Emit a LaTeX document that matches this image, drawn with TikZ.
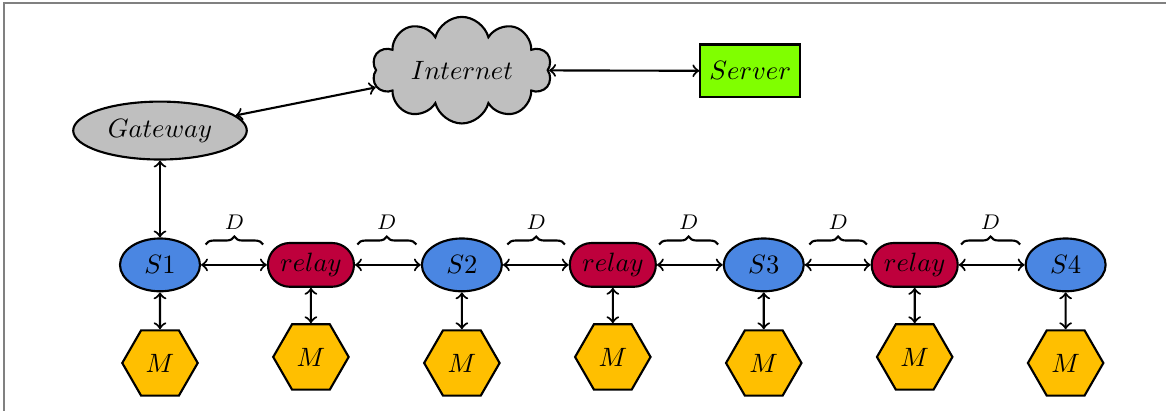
\documentclass[tikz,border=0pt]{standalone}
\usepackage{tikz}
\usetikzlibrary{shapes.geometric,shapes.symbols,decorations.pathreplacing}
\definecolor{sblue}{RGB}{74,134,226}
\definecolor{rcrim}{RGB}{190,0,60}
\definecolor{mgold}{RGB}{255,191,0}
\definecolor{sgreen}{RGB}{128,255,0}

\tikzset{
    sensor/.style={ellipse, draw, thick, fill=sblue, minimum width=1.06cm, minimum height=0.70cm, inner sep=1pt},
    relaybox/.style={rectangle, rounded corners=0.29cm, draw, thick, fill=rcrim, minimum width=1.14cm, minimum height=0.58cm, inner sep=1pt},
    meter/.style={regular polygon, regular polygon sides=6, draw, thick, fill=mgold, minimum size=1.0cm, inner sep=0pt},
    link/.style={<->, thick},
    gap/.style={decorate, decoration={brace, amplitude=3pt}, thick}
}

\begin{document}
\begin{tikzpicture}[>=to]
    \useasboundingbox (-2.12, -1.93) rectangle (13.33, 3.51);
    % frame lines along top and left
    \draw[gray, line width=0.6pt] (-2.07, -1.93) -- (-2.07, 3.47) -- (13.33, 3.47);

    % upper part
    \node[ellipse, draw, thick, fill=lightgray, minimum width=2.30cm, minimum height=0.75cm] (gw) at (0, 1.78) {$Gateway$};
    \node[cloud, cloud puffs=10, aspect=1.9, draw, thick, fill=lightgray, inner sep=0pt, minimum width=2.38cm, minimum height=1.22cm] (net) at (4.0, 2.58) {$Internet$};
    \node[rectangle, draw, thick, fill=sgreen, minimum width=1.32cm, minimum height=0.70cm] (srv) at (7.82, 2.57) {$Server$};

    % chain of sensors and relays
    \node[sensor] (s1) at (0, 0) {$S1$};
    \node[relaybox] (r1) at (2, 0) {$relay$};
    \node[sensor] (s2) at (4, 0) {$S2$};
    \node[relaybox] (r2) at (6, 0) {$relay$};
    \node[sensor] (s3) at (8, 0) {$S3$};
    \node[relaybox] (r3) at (10, 0) {$relay$};
    \node[sensor] (s4) at (12, 0) {$S4$};

    % meters below
    \node[meter] (m1) at (0, -1.30) {$M$};
    \node[meter] (m2) at (2, -1.22) {$M$};
    \node[meter] (m3) at (4, -1.30) {$M$};
    \node[meter] (m4) at (6, -1.22) {$M$};
    \node[meter] (m5) at (8, -1.30) {$M$};
    \node[meter] (m6) at (10, -1.22) {$M$};
    \node[meter] (m7) at (12, -1.30) {$M$};

    \draw[link] (gw) -- (net);
    \draw[link] (net) -- (srv);
    \draw[link] (gw) -- (s1);

    \draw[link] (s1) -- (r1);
    \draw[link] (r1) -- (s2);
    \draw[link] (s2) -- (r2);
    \draw[link] (r2) -- (s3);
    \draw[link] (s3) -- (r3);
    \draw[link] (r3) -- (s4);

    \draw[link] (s1) -- (m1);
    \draw[link] (r1) -- (m2);
    \draw[link] (s2) -- (m3);
    \draw[link] (r2) -- (m4);
    \draw[link] (s3) -- (m5);
    \draw[link] (r3) -- (m6);
    \draw[link] (s4) -- (m7);

    % spacing braces
    \draw[gap] ([shift={(0.06,0.27)}]s1.east) -- node[above=2pt] {\footnotesize $D$} ([shift={(-0.05,0.27)}]r1.west);
    \draw[gap] ([shift={(0.03,0.27)}]r1.east) -- node[above=2pt] {\footnotesize $D$} ([shift={(-0.06,0.27)}]s2.west);
    \draw[gap] ([shift={(0.06,0.27)}]s2.east) -- node[above=2pt] {\footnotesize $D$} ([shift={(-0.05,0.27)}]r2.west);
    \draw[gap] ([shift={(0.03,0.27)}]r2.east) -- node[above=2pt] {\footnotesize $D$} ([shift={(-0.06,0.27)}]s3.west);
    \draw[gap] ([shift={(0.06,0.27)}]s3.east) -- node[above=2pt] {\footnotesize $D$} ([shift={(-0.05,0.27)}]r3.west);
    \draw[gap] ([shift={(0.03,0.27)}]r3.east) -- node[above=2pt] {\footnotesize $D$} ([shift={(-0.06,0.27)}]s4.west);
\end{tikzpicture}
\end{document}
